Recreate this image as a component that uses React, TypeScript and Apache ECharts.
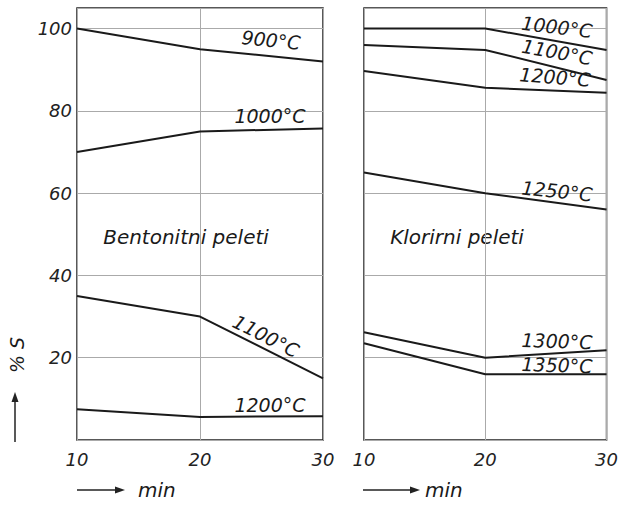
import React, { useEffect, useRef } from "react";
import * as echarts from "echarts";

const minutes = [10, 20, 30];
const yTicks = [20, 40, 60, 80, 100];

const bentonit900 = [100, 95, 92];
const bentonit1000 = [70, 75, 75.7];
const bentonit1100 = [35, 30, 15];
const bentonit1200 = [7.5, 5.6, 5.8];

const klorir1000 = [100, 100, 94.8];
const klorir1100 = [96, 94.8, 87.5];
const klorir1200 = [89.7, 85.6, 84.4];
const klorir1250 = [65, 60, 56];
const klorir1300 = [26.2, 20, 21.8];
const klorir1350 = [23.5, 16, 16];

const leftSeries = [
  { name: "900°C", data: bentonit900 },
  { name: "1000°C", data: bentonit1000 },
  { name: "1100°C", data: bentonit1100 },
  { name: "1200°C", data: bentonit1200 },
];
const rightSeries = [
  { name: "1000°C", data: klorir1000 },
  { name: "1100°C", data: klorir1100 },
  { name: "1200°C", data: klorir1200 },
  { name: "1250°C", data: klorir1250 },
  { name: "1300°C", data: klorir1300 },
  { name: "1350°C", data: klorir1350 },
];

const FONT = "DejaVu Sans";

export default function App() {
  const ref = useRef<HTMLDivElement>(null);
  useEffect(() => {
    if (!ref.current) return;
    const chart = echarts.init(ref.current, undefined, { renderer: "svg" });
    const tickFont = { fontFamily: FONT, fontStyle: "italic", fontSize: 18, color: "#222" };
    const xAxisBase = (gridIndex: number) => ({
      type: "value",
      gridIndex,
      min: 10,
      max: 30,
      interval: 10,
      axisLine: { show: false },
      axisTick: { show: false },
      axisLabel: { ...tickFont, margin: 10 },
      splitLine: { show: true, lineStyle: { color: "#aaa", width: 1 } },
    });
    const yAxisBase = (gridIndex: number, showLabels: boolean) => ({
      type: "value",
      gridIndex,
      min: 0,
      max: 105,
      interval: 20,
      axisLine: { show: false },
      axisTick: { show: false },
      axisLabel: {
        show: showLabels,
        ...tickFont,
        margin: 5,
        formatter: (v: number) => (yTicks.includes(v) ? String(v) : ""),
      },
      splitLine: { show: true, lineStyle: { color: "#aaa", width: 1 } },
    });
    const mkSeries = (list: { name: string; data: number[] }[], idx: number) =>
      list.map((s) => ({
        type: "line",
        name: s.name,
        xAxisIndex: idx,
        yAxisIndex: idx,
        data: minutes.map((m, i) => [m, s.data[i]]),
        showSymbol: false,
        symbol: "none",
        lineStyle: { color: "#1a1a1a", width: 2 },
      }));

    const label = (text: string, x: number, y: number, rot: number, size = 19) => ({
      type: "text",
      x,
      y,
      rotation: rot,
      style: {
        text,
        fontFamily: FONT,
        fontStyle: "italic",
        fontSize: size,
        fill: "#1a1a1a",
        align: "center",
        verticalAlign: "middle",
      },
      z: 100,
    });

    const arrowH = (x1: number, x2: number, y: number) => [
      { type: "line", shape: { x1, y1: y, x2: x2 - 8, y2: y }, style: { stroke: "#222", lineWidth: 1.5 } },
      {
        type: "polygon",
        shape: { points: [[x2, y], [x2 - 10, y - 3.5], [x2 - 10, y + 3.5]] },
        style: { fill: "#222" },
      },
    ];

    chart.setOption({
      animation: false,
      grid: [
        { left: 77, top: 8, width: 246, height: 432, show: true, borderColor: "#222", borderWidth: 1.5, backgroundColor: "transparent" },
        { left: 364, top: 8, width: 245, height: 432, show: true, borderColor: "#222", borderWidth: 1.5, backgroundColor: "transparent" },
      ],
      xAxis: [xAxisBase(0), xAxisBase(1)],
      yAxis: [yAxisBase(0, true), yAxisBase(1, false)],
      series: [...mkSeries(leftSeries, 0), ...mkSeries(rightSeries, 1)],
      graphic: [
        label("900°C", 271, 40, -0.1),
        label("1000°C", 270, 116, 0),
        label("1100°C", 266, 336, -0.47),
        label("1200°C", 270, 405, 0),
        label("1000°C", 557, 27, -0.12),
        label("1100°C", 557, 52, -0.18),
        label("1200°C", 555, 77, -0.08),
        label("1250°C", 557, 191, -0.1),
        label("1300°C", 557, 341, -0.03),
        label("1350°C", 557, 365, -0.03),
        {
          type: "text", x: 186, y: 237,
          style: { text: "Bentonitni peleti", fontFamily: FONT, fontStyle: "italic", fontSize: 20, fill: "#1a1a1a", align: "center", verticalAlign: "middle" },
        },
        {
          type: "text", x: 457, y: 237,
          style: { text: "Klorirni peleti", fontFamily: FONT, fontStyle: "italic", fontSize: 20, fill: "#1a1a1a", align: "center", verticalAlign: "middle" },
        },
        {
          type: "text", x: 17, y: 355, rotation: Math.PI / 2,
          style: { text: "% S", fontFamily: FONT, fontStyle: "italic", fontSize: 19, fill: "#1a1a1a", align: "center", verticalAlign: "middle" },
        },
        { type: "line", shape: { x1: 15, y1: 442, x2: 15, y2: 402 }, style: { stroke: "#222", lineWidth: 1.5 } },
        { type: "polygon", shape: { points: [[15, 392], [11.5, 402], [18.5, 402]] }, style: { fill: "#222" } },
        ...arrowH(77, 125, 490),
        {
          type: "text", x: 138, y: 490,
          style: { text: "min", fontFamily: FONT, fontStyle: "italic", fontSize: 20, fill: "#1a1a1a", align: "left", verticalAlign: "middle" },
        },
        ...arrowH(363, 420, 490),
        {
          type: "text", x: 425, y: 490,
          style: { text: "min", fontFamily: FONT, fontStyle: "italic", fontSize: 20, fill: "#1a1a1a", align: "left", verticalAlign: "middle" },
        },
      ],
    });
    return () => chart.dispose();
  }, []);
  return <div ref={ref} style={{ width: 621, height: 505, position: "absolute", left: 0, top: 0 }} />;
}
